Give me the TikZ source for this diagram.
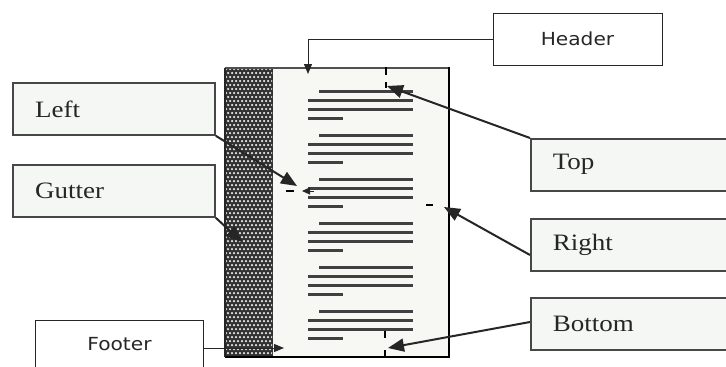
\documentclass[tikz,border=0pt]{standalone}
\usepackage{fontspec}
\setmainfont{Liberation Serif}
\newfontfamily\sansf{DejaVu Sans}
\usetikzlibrary{arrows.meta}
\definecolor{pagefill}{HTML}{F7F8F4}
\definecolor{boxfill}{HTML}{F4F7F3}
\definecolor{ink}{HTML}{262626}
\definecolor{textline}{HTML}{404040}
\tikzset{
  sbox/.style={draw=ink!85, line width=1.6pt, fill=boxfill, minimum height=52pt,
    inner xsep=22pt, align=left, text=ink, font=\fontsize{23.5}{27}\selectfont},
  fbox/.style={draw=ink, line width=1pt, fill=white, minimum height=52pt,
    text=ink, font=\sansf\fontsize{18}{22}\selectfont},
  conn/.style={draw=ink, line width=2pt, -{Triangle[length=16pt,width=13pt]}},
  thinconn/.style={draw=ink, line width=1pt, -{Triangle[length=10pt,width=8pt]}},
  tline/.style={draw=textline, line width=3pt},
  mmark/.style={draw=black, line width=2.6pt}
}
\begin{document}
\begin{tikzpicture}[x=1pt,y=-1pt]
\useasboundingbox (0,0) rectangle (726,367);
\fill[white] (0,0) rectangle (726,367);
% page
\fill[pagefill] (225,68) rectangle (449,357);
\fill[ink!95] (225,68) rectangle (273,357);
\begin{scope}
\clip (226,69) rectangle (272,356);
\foreach \r in {0,...,72}{
  \foreach \c in {0,...,12}{
    \pgfmathsetmacro{\xx}{226+4*\c+2*mod(\r,2)}
    \fill[white!80!gray] (\xx,69+4*\r) circle (1.25pt);
  }
}
\end{scope}
\draw[ink!80, line width=1.2pt] (225,68) -- (449,68);
\draw[black, line width=2.8pt] (449,67) -- (449,357) -- (225,357);
\draw[ink, line width=1.5pt] (225,68) -- (225,357);
% text lines
\foreach \i in {0,...,5}{
  \pgfmathsetmacro{\yy}{91+44*\i}
  \draw[tline] (319,\yy) -- (413,\yy);
  \draw[tline] (308,\yy+9) -- (413,\yy+9);
  \draw[tline] (308,\yy+18) -- (413,\yy+18);
  \draw[tline] (308,\yy+27) -- (343,\yy+27);
}
% margin marks
\draw[mmark] (386,67) -- (386,75);
\draw[mmark] (386,82) -- (386,88);
\draw[mmark] (286,191) -- (294,191);
\draw[mmark] (426,205) -- (433,205);
\draw[mmark] (385,331) -- (385,338);
\draw[mmark] (385,350) -- (385,356);
% boxes
\node[fbox, minimum width=169pt] (header) at (577.5,39) {\scalebox{1.12}[1]{Header}};
\node[fbox, minimum width=168pt, anchor=north west] (footer) at (35,320) {\raisebox{6pt}{\scalebox{1.12}[1]{Footer}}};
\node[sbox, text width=158pt] (left) at (114,109) {\scalebox{1.15}[1]{Left}};
\node[sbox, text width=158pt] (gutter) at (114,191) {\scalebox{1.15}[1]{Gutter}};
\node[sbox, text width=160pt, anchor=north west] (top) at (530,138) {\scalebox{1.15}[1]{Top}};
\node[sbox, text width=160pt, anchor=north west] (right) at (530,218) {\scalebox{1.15}[1]{Right}};
\node[sbox, text width=160pt, anchor=north west] (bottom) at (530,297) {\scalebox{1.15}[1]{Bottom}};
% connector targets
\coordinate (hbend) at (308,39);
\coordinate (htip) at (308,74);
\coordinate (ttip) at (387,86);
\coordinate (rtip) at (444,207);
\coordinate (btip) at (388,348);
\coordinate (ltip) at (297,186);
\coordinate (gtip) at (242,242);
\coordinate (ftip) at (284,348);
\coordinate (mstart) at (314,191);
\coordinate (mtip) at (302,191);
\coordinate (rstart) at (530,255);
\coordinate (bstart) at (530,322);
\coordinate (fstart) at (203,348);
% connectors
\draw[thinconn] (header.west) -- (hbend) -- (htip);
\draw[conn] (top.north west) -- (ttip);
\draw[conn] (rstart) -- (rtip);
\draw[conn] (bstart) -- (btip);
\draw[conn] (left.south east) -- (ltip);
\draw[conn] (gutter.south east) -- (gtip);
\draw[thinconn] (fstart) -- (ftip);
\draw[draw=ink, line width=1pt, -{Triangle[length=8pt,width=7pt]}] (mstart) -- (mtip);
\end{tikzpicture}
\end{document}
